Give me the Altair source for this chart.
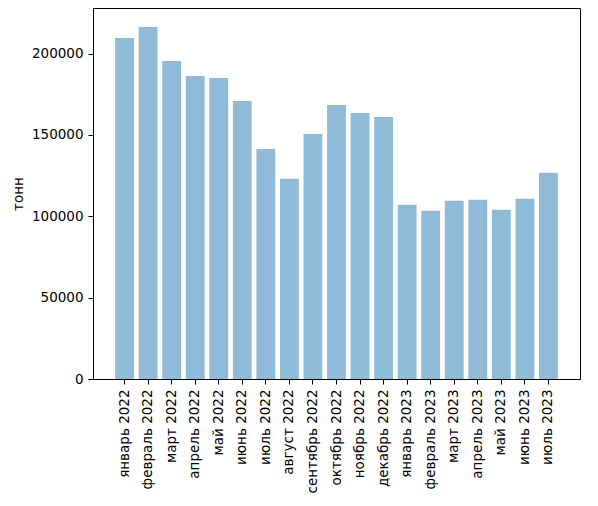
import altair as alt
import pandas as pd

months = [
    "январь 2022", "февраль 2022", "март 2022", "апрель 2022", "май 2022",
    "июнь 2022", "июль 2022", "август 2022", "сентябрь 2022", "октябрь 2022",
    "ноябрь 2022", "декабрь 2022", "январь 2023", "февраль 2023", "март 2023",
    "апрель 2023", "май 2023", "июнь 2023", "июль 2023",
]
tonnes = [
    209500, 216300, 195400, 186200, 185000,
    170900, 141400, 123000, 150600, 168400,
    163500, 161000, 107100, 103400, 109500,
    110100, 104000, 110700, 126700,
]

df = pd.DataFrame({"month": months, "tonnes": tonnes})

font = "DejaVu Sans"

chart = alt.Chart(df).mark_bar(color="#1f77b4", opacity=0.5).encode(
    x=alt.X("month:N", sort=months, title=None,
            scale=alt.Scale(paddingInner=0.2, paddingOuter=0.94),
            axis=alt.Axis(labelAngle=270, domainColor="black", tickColor="black",
                          tickSize=5, labelPadding=5)),
    y=alt.Y("tonnes:Q", title="тонн",
            scale=alt.Scale(domain=[0, 228000], nice=False),
            axis=alt.Axis(values=[0, 50000, 100000, 150000, 200000], format="d",
                          grid=False, domainColor="black", tickColor="black",
                          tickSize=5, labelPadding=5, titlePadding=6)),
).properties(
    width=487,
    height=371,
    autosize=alt.AutoSizeParams(type="none"),
    padding={"left": 85, "top": 0, "right": 10, "bottom": 125},
).configure_view(
    stroke="black", strokeWidth=1
).configure_axis(
    labelFont=font, titleFont=font, labelFontSize=13.5, titleFontSize=13.5,
    labelColor="black", titleColor="black", titleFontWeight="normal",
    domainWidth=1, tickWidth=1,
)

chart.save("out.html", embed_options={"renderer": "svg", "actions": False})
